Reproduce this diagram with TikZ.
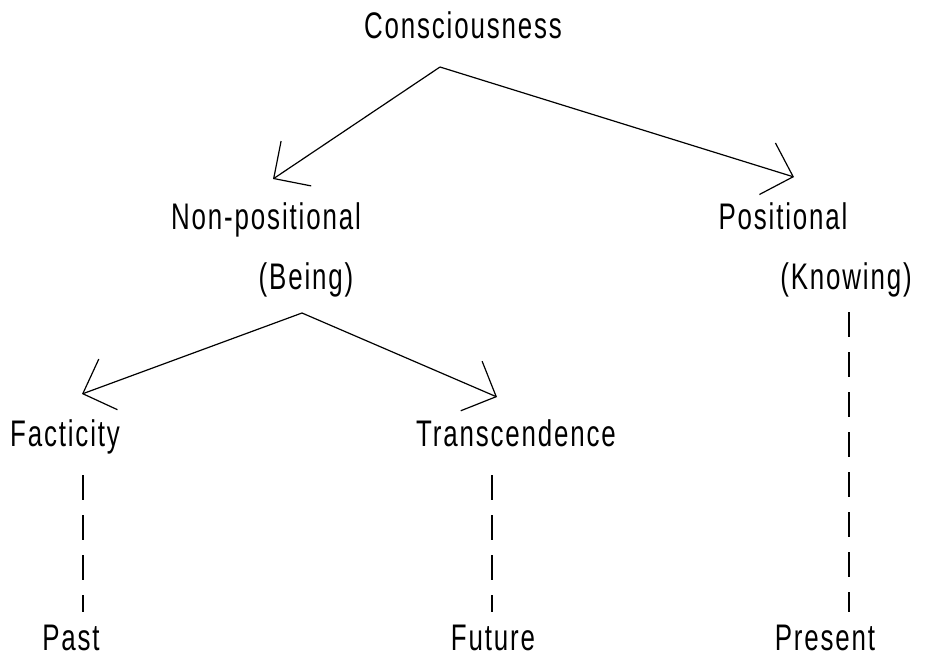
\documentclass[tikz,border=0pt]{standalone}
\usepackage{fontspec}
\setmainfont[FakeStretch=0.7,LetterSpace=5]{Liberation Sans}
\usetikzlibrary{arrows.meta}
\begin{document}
\begin{tikzpicture}[x=1pt,y=-1pt,
  lbl/.style={anchor=base,inner sep=0pt,font=\fontsize{37}{42}\selectfont},
  conn/.style={line width=1.2pt,line join=round,-{Straight Barb[length=27pt,width=54pt,line width=1.2pt]}},
  dashline/.style={line width=1.2pt,dash pattern=on 25pt off 15pt}]
\useasboundingbox (0,0) rectangle (927,656);
% labels
\node[lbl] (cons) at (463,38) {Consciousness};
\node[lbl] (nonpos) at (266,229) {Non-positional};
\node[lbl] (being) at (306,289) {(Being)};
\node[lbl] (pos) at (783,229) {Positional};
\node[lbl] (know) at (846,289) {(Knowing)};
\node[lbl] (fact) at (65,446) {Facticity};
\node[lbl] (trans) at (516,446) {Transcendence};
\node[lbl] (past) at (71,650) {Past};
\node[lbl] (fut) at (493,650) {Future};
\node[lbl] (pres) at (825,650) {Present};
% connector points
\coordinate (apexA) at (440,67);
\coordinate (tipA1) at (273,179);
\coordinate (tipA2) at (794,177);
\coordinate (apexB) at (302,313);
\coordinate (tipB1) at (82,394);
\coordinate (tipB2) at (497,397);
\coordinate (dA1) at (83,475);
\coordinate (dA2) at (83,612);
\coordinate (dB1) at (492,475);
\coordinate (dB2) at (492,612);
\coordinate (dC1) at (849,312);
\coordinate (dC2) at (849,612);
% arrows
\draw[conn] (apexA) -- (tipA1);
\draw[conn] (apexA) -- (tipA2);
\draw[conn] (apexB) -- (tipB1);
\draw[conn] (apexB) -- (tipB2);
% dashed
\draw[dashline] (dA1) -- (dA2);
\draw[dashline] (dB1) -- (dB2);
\draw[dashline] (dC1) -- (dC2);
\end{tikzpicture}
\end{document}
